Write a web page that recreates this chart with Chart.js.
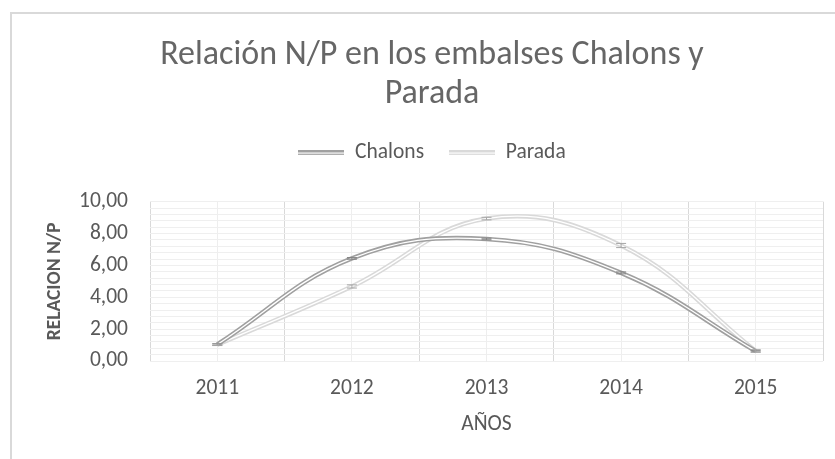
<!DOCTYPE html>
<html>
<head>
<meta charset="utf-8">
<script src="https://cdn.jsdelivr.net/npm/chart.js@4/dist/chart.umd.min.js"></script>
<style>
  html, body { margin: 0; padding: 0; background: #fff; overflow: hidden; width: 835px; height: 459px; }
  #frame {
    position: absolute; left: 10px; top: 12px;
    width: 842px; height: 460px;
    border-left: 2px solid #d9d9d9; border-top: 2px solid #d9d9d9;
  }
  canvas { display: block; }
</style>
</head>
<body>
<div id="frame"><canvas id="chart" width="840" height="445"></canvas></div>
<script>
// data
const years = ["2011", "2012", "2013", "2014", "2015"];
const chalons = [1.04, 6.44, 7.66, 5.53, 0.62];
const parada = [1.02, 4.68, 8.94, 7.25, 0.63];
const chalonsErr = [0.05, 0.05, 0.05, 0.06, 0.05];
const paradaErr = [0.05, 0.1, 0.08, 0.13, 0.08];

const chalonsColor = "#a0a0a0";
const paradaColor = "#d9d9d9";
const textColor = "#595959";
const fontFamily = "Carlito, Calibri, Lato, 'Open Sans', sans-serif";

// little canvas that looks like the double line in the legend
function doubleLine(color) {
    const c = document.createElement("canvas");
    c.width = 46;
    c.height = 5;
    const g = c.getContext("2d");
    g.fillStyle = color;
    g.fillRect(0, 0, 46, 5);
    g.fillStyle = "#fff";
    g.fillRect(0, 2, 46, 1.3);
    return c;
}
const legendIcons = { Chalons: doubleLine(chalonsColor), Parada: doubleLine(paradaColor) };

// error bars drawn on top of the lines
const errorBars = {
    id: "errorBars",
    afterDatasetsDraw(chart) {
        const ctx = chart.ctx;
        const y = chart.scales.y;
        chart.data.datasets.forEach((ds, i) => {
            if (!ds.errors) return;
            const meta = chart.getDatasetMeta(i);
            ctx.save();
            ctx.strokeStyle = ds.errorColor;
            ctx.lineWidth = 1;
            meta.data.forEach((pt, j) => {
                const top = y.getPixelForValue(ds.data[j] + ds.errors[j]);
                const bot = y.getPixelForValue(ds.data[j] - ds.errors[j]);
                ctx.beginPath();
                ctx.moveTo(pt.x, top);
                ctx.lineTo(pt.x, bot);
                ctx.moveTo(pt.x - 5, top);
                ctx.lineTo(pt.x + 5, top);
                ctx.moveTo(pt.x - 5, bot);
                ctx.lineTo(pt.x + 5, bot);
                ctx.stroke();
            });
            ctx.restore();
        });
    }
};

const tension = 0.4;

new Chart(document.getElementById("chart"), {
    type: "line",
    data: {
        labels: years,
        datasets: [
            { label: "Chalons", data: chalons, borderColor: chalonsColor, borderWidth: 4.5, order: 1,
              errors: chalonsErr, errorColor: "#7f7f7f" },
            { label: "inner1", data: chalons, borderColor: "#fff", borderWidth: 1.3, order: 0 },
            { label: "Parada", data: parada, borderColor: paradaColor, borderWidth: 4.5, order: 3,
              errors: paradaErr, errorColor: "#a6a6a6" },
            { label: "inner2", data: parada, borderColor: "#fff", borderWidth: 1.3, order: 2 }
        ]
    },
    options: {
        responsive: false,
        animation: false,
        devicePixelRatio: 1,
        layout: { padding: 0 },
        elements: {
            line: { tension: tension, fill: false },
            point: { radius: 0, hoverRadius: 0 }
        },
        plugins: {
            tooltip: { enabled: false },
            title: {
                display: true,
                text: ["Relación N/P en los embalses Chalons y", "Parada"],
                color: "#666666",
                font: { family: fontFamily, size: 34, weight: "normal", lineHeight: 1.15 },
                padding: { top: 22, bottom: 3 }
            },
            // empty subtitle, used only as a gap between legend and plot
            subtitle: {
                display: true,
                text: "",
                weight: 500,
                font: { size: 1, lineHeight: 1 },
                padding: { top: 27, bottom: 0 }
            },
            legend: {
                display: true,
                position: "top",
                labels: {
                    color: textColor,
                    font: { family: fontFamily, size: 21.5 },
                    padding: 25,
                    usePointStyle: true,
                    pointStyleWidth: 46,
                    generateLabels(chart) {
                        const items = Chart.defaults.plugins.legend.labels.generateLabels(chart);
                        return items
                            .filter(it => legendIcons[it.text])
                            .map(it => Object.assign(it, { pointStyle: legendIcons[it.text] }));
                    }
                }
            }
        },
        scales: {
            x: {
                type: "category",
                offset: true,
                grid: { offset: true, color: "#d9d9d9", drawTicks: false },
                border: { display: false },
                ticks: { color: textColor, font: { family: fontFamily, size: 21.5 }, padding: 15 },
                title: {
                    display: true, text: "AÑOS", color: textColor,
                    font: { family: fontFamily, size: 21.5 },
                    padding: { top: 0, bottom: 21 }
                },
                afterFit(s) { s.height = 98; }
            },
            x2: {
                type: "category",
                position: "bottom",
                offset: true,
                grid: { offset: false, color: "#eeeeee", drawTicks: false, z: -1 },
                border: { display: false },
                ticks: { display: false },
                afterFit(s) { s.height = 0; }
            },
            y: {
                min: 0,
                max: 10,
                ticks: {
                    stepSize: 2,
                    color: textColor,
                    font: { family: fontFamily, size: 21.5 },
                    padding: 22,
                    callback: v => v.toFixed(2).replace(".", ",")
                },
                grid: { color: "#d9d9d9", drawTicks: false },
                border: { display: false },
                title: {
                    display: true, text: "RELACION N/P", color: textColor,
                    font: { family: fontFamily, size: 19.5, weight: "bold" },
                    padding: { top: 31, bottom: 0 }
                },
                afterFit(s) { s.width = 138; }
            },
            y2: {
                position: "left",
                min: 0,
                max: 10,
                ticks: { display: false, stepSize: 0.4 },
                grid: { color: "#efefef", drawTicks: false, z: -1 },
                border: { display: false },
                afterFit(s) { s.width = 0; }
            },
            // empty axis on the right, keeps the plot narrower than the title area
            spacer: {
                position: "right",
                ticks: { display: false },
                grid: { display: false },
                border: { display: false },
                afterFit(s) { s.width = 29; }
            }
        }
    },
    plugins: [errorBars]
});
</script>
</body>
</html>
